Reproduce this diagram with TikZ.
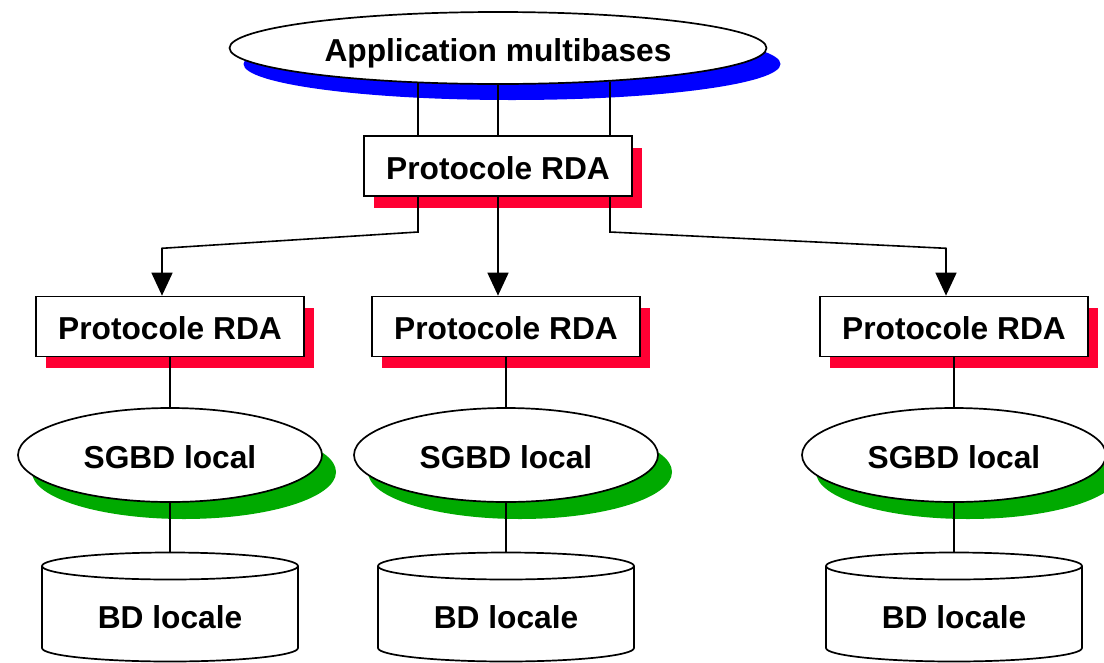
\documentclass[tikz,border=0pt]{standalone}
\usepackage{fontspec}
\setmainfont{Liberation Sans}
\usetikzlibrary{shapes.geometric,arrows.meta,shadows}
\definecolor{shblue}{RGB}{0,0,255}
\definecolor{shred}{RGB}{255,0,51}
\definecolor{shgreen}{RGB}{0,170,0}
\begin{document}
\begin{tikzpicture}[x=1pt,y=-1pt,
  lbl/.style={font=\bfseries\fontsize{31.7}{38}\selectfont, text height=26pt, text depth=0pt, inner sep=0pt},
  boxn/.style={lbl, draw, line width=1.7pt, fill=white, minimum width=268pt, minimum height=60pt,
    general shadow={shadow xshift=10pt, shadow yshift=-11.5pt, fill=shred}},
  ellr/.style={lbl, ellipse, draw, line width=1.7pt, fill=white},
  bshadow/.style={general shadow={shadow xshift=14pt, shadow yshift=-16pt, fill=shblue}},
  gshadow/.style={general shadow={shadow xshift=14pt, shadow yshift=-17pt, fill=shgreen}},
  cylb/.style={line width=1.7pt, fill=white},
  conn/.style={line width=1.6pt},
  arr/.style={conn, -{Triangle[width=21pt,length=23pt]}}
]
\useasboundingbox (0,0) rectangle (1104,662);

% top level
\node[ellr, bshadow, minimum width=537pt, minimum height=72pt] (app) at (498,48) {Application multibases};
\node[boxn] (rda0) at (498,166) {Protocole RDA};

% lower columns
\foreach \n/\x in {1/170, 2/506, 3/954} {
  \node[boxn] (rda\n) at (\x,326.5) {Protocole RDA};
  \node[ellr, gshadow, minimum width=304pt, minimum height=94pt] (sgbd\n) at (\x,455) {SGBD local};
  \draw[cylb] (\x-128,566) -- (\x-128,648) arc[start angle=180, end angle=0, x radius=128, y radius=13.5] -- (\x+128,566);
  \draw[cylb] (\x,566) ellipse [x radius=128, y radius=13.5];
  \node[lbl] (bd\n) at (\x,615.5) {BD locale};
  \coordinate (cyl\n) at (\x,552.5);
  \draw[conn] (rda\n) -- (sgbd\n);
  \draw[conn] (sgbd\n) -- (cyl\n);
}

% protocol to protocols
\coordinate (kl) at (418,232);
\coordinate (kl2) at (162,248.3);
\coordinate (kr) at (610,232);
\coordinate (kr2) at (946,248.3);
\coordinate (km) at (498,0);

% application to protocol
\draw[conn] (app.203.4 -| kl) -- (kl |- rda0.north);
\draw[conn] (app.south) -- (rda0.north);
\draw[conn] (app.343.8 -| kr) -- (kr |- rda0.north);

\draw[arr] (kl |- rda0.south) -- (kl) -- (kl2) -- (kl2 |- rda1.north);
\draw[arr] (rda0.south) -- (km |- rda2.north);
\draw[arr] (kr |- rda0.south) -- (kr) -- (kr2) -- (kr2 |- rda3.north);
\end{tikzpicture}
\end{document}
